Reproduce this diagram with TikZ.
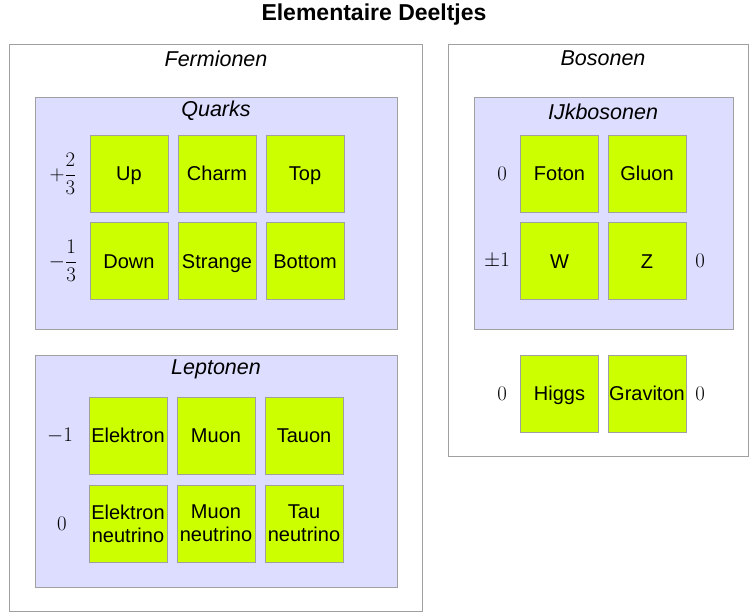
\documentclass[tikz,border=0pt]{standalone}
\usepackage{fontspec}
\newfontfamily\hv{Liberation Sans}
\definecolor{partgreen}{HTML}{CCFF00}
\definecolor{grpfill}{HTML}{DDDDFF}
\definecolor{edgegray}{HTML}{A0A0A0}
\tikzset{
  particletwo/.style={draw=edgegray, line width=0.9pt, fill=partgreen, minimum width=78pt, minimum height=77pt, inner sep=0pt, align=center, font=\hv\fontsize{20}{23}\selectfont},
  particle/.style={particletwo, text height=14.4pt, text depth=0pt},
  outerbox/.style={draw=edgegray, line width=0.9pt, fill=white, inner sep=0pt},
  groupbox/.style={draw=edgegray, line width=0.9pt, fill=grpfill, inner sep=0pt},
  grouplabel/.style={font=\hv\itshape\fontsize{21.5}{24}\selectfont, inner sep=0pt},
  charge/.style={font=\fontsize{20}{24}\selectfont, inner sep=0pt},
}
\begin{document}
\begin{tikzpicture}[x=1pt,y=-1pt]
\useasboundingbox (0,0) rectangle (749,614);
\fill[white] (0,0) rectangle (749,614);
\node[font=\hv\bfseries\fontsize{23}{26}\selectfont, inner sep=0pt] (title) at (374,15) {Elementaire Deeltjes};
% Fermionen
\node[outerbox, minimum width=413pt, minimum height=567pt] (ferm) at (215.5,327.5) {};
\node[grouplabel] (fermlbl) at (216,59) {Fermionen};
\node[groupbox, minimum width=362pt, minimum height=232pt] (quarks) at (216,213) {};
\node[grouplabel] (quarkslbl) at (216,111) {Quarks};
\node[particle] (up) at (129,173.5) {Up};
\node[particle] (charm) at (217,173.5) {Charm};
\node[particle] (top) at (305,173.5) {Top};
\node[particle] (down) at (129,261) {Down};
\node[particle] (strange) at (217,261) {Strange};
\node[particle] (bottom) at (305,261) {Bottom};
\node[charge] (qup) at (63,173.5) {$\displaystyle +\frac{2}{3}$};
\node[charge] (qdown) at (63,261) {$\displaystyle -\frac{1}{3}$};
\node[groupbox, minimum width=362pt, minimum height=232pt] (leptons) at (216,471) {};
\node[grouplabel] (leptonslbl) at (216,369) {Leptonen};
\node[particle] (elektron) at (128,435.5) {Elektron};
\node[particle] (muon) at (216,435.5) {Muon};
\node[particle] (tauon) at (304,435.5) {Tauon};
\node[particletwo] (enu) at (128,523.5) {Elektron\\neutrino};
\node[particletwo] (munu) at (216,523.5) {Muon\\neutrino};
\node[particletwo] (taunu) at (304,523.5) {Tau\\neutrino};
\node[charge] (qlep) at (60,435.5) {$-1$};
\node[charge] (qnu) at (62,523.5) {$0$};
% Bosonen
\node[outerbox, minimum width=300pt, minimum height=412pt] (bos) at (598,250) {};
\node[grouplabel] (boslbl) at (603,58) {Bosonen};
\node[groupbox, minimum width=259pt, minimum height=232pt] (ijk) at (603.5,213) {};
\node[grouplabel] (ijklbl) at (603,112) {IJkbosonen};
\node[particle] (foton) at (559.5,173.5) {Foton};
\node[particle] (gluon) at (647,173.5) {Gluon};
\node[particle] (w) at (559.5,261) {W};
\node[particle] (z) at (647,261) {Z};
\node[particle] (higgs) at (559.5,393.5) {Higgs};
\node[particle] (graviton) at (647,393.5) {Graviton};
\node[charge] (qfoton) at (502,173.5) {$0$};
\node[charge] (qw) at (497,261) {$\pm1$};
\node[charge] (qz) at (700,261) {$0$};
\node[charge] (qhiggs) at (502,393.5) {$0$};
\node[charge] (qgrav) at (700,393.5) {$0$};
\end{tikzpicture}
\end{document}
